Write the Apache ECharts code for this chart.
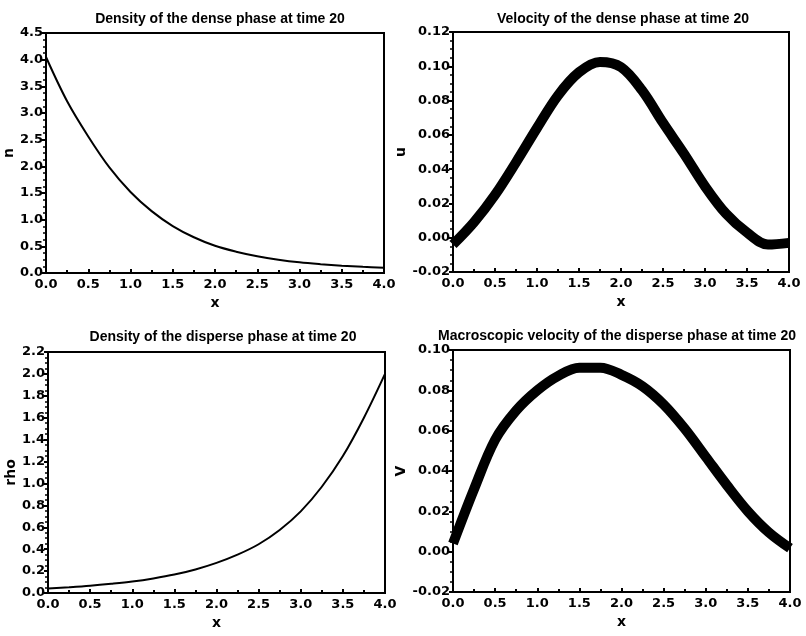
<!DOCTYPE html>
<html>
<head>
<meta charset="utf-8">
<script src="https://cdn.jsdelivr.net/npm/echarts@6/dist/echarts.min.js"></script>
<style>
  html, body { margin: 0; padding: 0; background: #fff; }
  #main { width: 806px; height: 636px; }
</style>
</head>
<body>
<div id="main"></div>
<script>
// sample positions along x (read every 0.25)
var xs = [0, 0.25, 0.5, 0.75, 1, 1.25, 1.5, 1.75, 2, 2.25, 2.5, 2.75, 3, 3.25, 3.5, 3.75, 4];

// density of the dense phase
var nVals = [4.05, 3.22, 2.56, 1.98, 1.52, 1.16, 0.88, 0.67, 0.51, 0.40, 0.315, 0.25, 0.20, 0.165, 0.137, 0.115, 0.097];
// velocity of the dense phase
var uVals = [-0.004, 0.009, 0.025, 0.044, 0.064, 0.083, 0.0965, 0.1025, 0.0995, 0.086, 0.067, 0.049, 0.030, 0.014, 0.003, -0.004, -0.003];
// density of the disperse phase
var rhoVals = [0.04, 0.052, 0.066, 0.084, 0.105, 0.133, 0.168, 0.215, 0.275, 0.35, 0.445, 0.575, 0.745, 0.97, 1.25, 1.6, 2.0];
// macroscopic velocity of the disperse phase
var vVals = [0.004, 0.031, 0.0555, 0.070, 0.080, 0.0872, 0.0912, 0.0912, 0.0877, 0.082, 0.073, 0.061, 0.047, 0.033, 0.020, 0.0095, 0.0017];

var titles = [
  'Density of the dense phase at time 20',
  'Velocity of the dense phase at time 20',
  'Density of the disperse phase at time 20',
  'Macroscopic velocity of the disperse phase at time 20'
];
var yNames = ['n', 'u', 'rho', 'V'];

function pairs(vals) {
  return xs.map(function (x, i) { return [x, vals[i]]; });
}

var font = 'DejaVu Sans';
var grids = [
  { left: 46, top: 33, width: 338, height: 240 },
  { left: 453, top: 32, width: 336, height: 240 },
  { left: 48, top: 352, width: 337, height: 241 },
  { left: 453, top: 350, width: 337, height: 242 }
];
var yRanges = [
  { min: 0, max: 4.5, interval: 0.5, dec: 1 },
  { min: -0.02, max: 0.12, interval: 0.02, dec: 2 },
  { min: 0, max: 2.2, interval: 0.2, dec: 1 },
  { min: -0.02, max: 0.10, interval: 0.02, dec: 2 }
];
var titleCenters = [215, 618, 218, 612];
var titleTops = [7, 7, 325, 324];
var lineWidths = [2, 10, 2, 10];
var series = [nVals, uVals, rhoVals, vVals];

var axisLabel = { color: '#000', fontFamily: font, fontWeight: 'bold', fontSize: 13 };
var nameStyle = { color: '#000', fontFamily: font, fontWeight: 'bold', fontSize: 14 };

var option = {
  animation: false,
  backgroundColor: '#fff',
  title: titles.map(function (t, i) {
    return {
      text: t,
      left: titleCenters[i],
      top: titleTops[i],
      textAlign: 'center',
      textStyle: { color: '#000', fontFamily: 'Liberation Sans', fontWeight: 'bold', fontSize: 14 }
    };
  }),
  grid: grids.map(function (g) {
    return Object.assign({ show: true, borderColor: '#000', borderWidth: 2 }, g);
  }),
  xAxis: grids.map(function (g, i) {
    return {
      type: 'value', gridIndex: i, min: 0, max: 4, interval: 0.5,
      name: 'x', nameLocation: 'middle', nameGap: 23, nameTextStyle: nameStyle,
      axisLine: { onZero: false, lineStyle: { color: '#000', width: 2 } },
      axisTick: { inside: true, length: 4, lineStyle: { color: '#000', width: 2 } },
      minorTick: { show: true, splitNumber: 2, length: 3, lineStyle: { color: '#000', width: 2 } },
      splitLine: { show: false },
      axisLabel: Object.assign({ margin: 5, formatter: function (v) { return v.toFixed(1); } }, axisLabel)
    };
  }),
  yAxis: grids.map(function (g, i) {
    var r = yRanges[i];
    return {
      type: 'value', gridIndex: i, min: r.min, max: r.max, interval: r.interval,
      name: yNames[i], nameLocation: 'middle', nameGap: i % 2 === 0 ? 29 : 43, nameTextStyle: nameStyle,
      axisLine: { onZero: false, lineStyle: { color: '#000', width: 2 } },
      axisTick: { length: 4, lineStyle: { color: '#000', width: 2 } },
      minorTick: { show: true, splitNumber: 4, length: 3, lineStyle: { color: '#000', width: 1.5 } },
      splitLine: { show: false },
      axisLabel: Object.assign({ margin: 3, formatter: function (v) { return v.toFixed(r.dec); } }, axisLabel)
    };
  }),
  series: series.map(function (vals, i) {
    return {
      type: 'line', xAxisIndex: i, yAxisIndex: i,
      data: pairs(vals), smooth: 0.35, showSymbol: false,
      lineStyle: { color: '#000', width: lineWidths[i] }
    };
  })
};

var chart = echarts.init(document.getElementById('main'));
chart.setOption(option);
window.onresize = chart.resize;
</script>
</body>
</html>
